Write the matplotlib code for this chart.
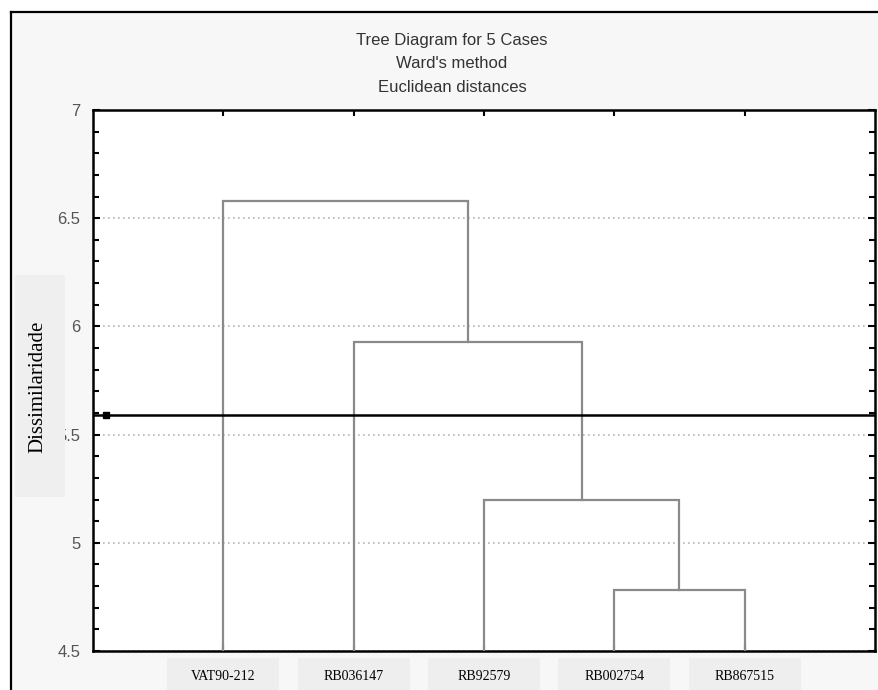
import matplotlib.pyplot as plt
import matplotlib.transforms as mtransforms
from matplotlib.patches import Rectangle
from matplotlib.ticker import MultipleLocator

# data
cases = ['VAT90-212', 'RB036147', 'RB92579', 'RB002754', 'RB867515']
# joins: (left node, right node) in scipy style, new nodes get index 5, 6, ...
joins = [(3, 4), (2, 5), (1, 6), (0, 7)]
join_heights = [4.78, 5.20, 5.93, 6.58]
cut_height = 5.59
title_lines = ['Tree Diagram for 5 Cases', "Ward's method", 'Euclidean distances']
y_label = 'Dissimilaridade'

W, H = 879, 690
fig = plt.figure(figsize=(W / 100, H / 100), dpi=100, facecolor='white')

# light grey panel with black border on left/top
fig.patches.append(Rectangle((11 / W, 0), 1, 1 - 12 / H, transform=fig.transFigure,
                             facecolor='#f7f7f7', edgecolor='none', zorder=-2))
fig.add_artist(plt.Line2D([11 / W, 11 / W], [0, 1 - 12 / H], color='black', lw=1.6,
                          transform=fig.transFigure, zorder=-1))
fig.add_artist(plt.Line2D([11 / W, 1], [1 - 12 / H, 1 - 12 / H], color='black', lw=1.6,
                          transform=fig.transFigure, zorder=-1))

ax = fig.add_axes([93 / W, 39 / H, 782 / W, 541 / H])
ax.set_facecolor('white')
ax.set_xlim(0, len(cases) + 1)
ax.set_ylim(4.5, 7)

# dendrogram
node_x = [i + 1 for i in range(len(cases))]
node_h = [4.5] * len(cases)
for (a, b), h in zip(joins, join_heights):
    xa, xb = node_x[a], node_x[b]
    ax.plot([xa, xa, xb, xb], [node_h[a], h, h, node_h[b]], color='#8a8a8a', lw=1.6,
            solid_joinstyle='miter', zorder=3)
    node_x.append((xa + xb) / 2)
    node_h.append(h)

# cut line
ax.axhline(cut_height, color='black', lw=1.8, zorder=4)
ax.plot([0.1], [cut_height], marker='s', ms=5, color='black', zorder=5)

ax.yaxis.grid(True, which='major', linestyle=(0, (1, 2)), color='#b5b5b5', lw=1.2)
ax.set_axisbelow(True)

ax.yaxis.set_major_locator(MultipleLocator(0.5))
ax.yaxis.set_minor_locator(MultipleLocator(0.1))
ax.yaxis.set_major_formatter(plt.FuncFormatter(lambda v, p: '%g' % v))
ax.set_xticks(range(1, len(cases) + 1))
ax.set_xticklabels([])
ax.tick_params(axis='both', which='both', direction='in', top=True, right=True,
               color='black', width=1.5)
ax.tick_params(axis='y', which='major', length=5, pad=9, labelsize=12, labelcolor='#555555')
ax.tick_params(axis='y', which='minor', length=4)
ax.tick_params(axis='x', length=4)
for lbl in ax.get_yticklabels():
    lbl.set_fontfamily('Liberation Sans')
for s in ax.spines.values():
    s.set_linewidth(1.8)
    s.set_color('black')

# case labels in grey boxes below the axes
blend = mtransforms.blended_transform_factory(ax.transData, fig.transFigure)
for i, name in enumerate(cases):
    x = i + 1
    ax.add_patch(Rectangle((x - 0.43, 0), 0.86, 32 / H, transform=blend,
                           facecolor='#eeeeee', edgecolor='none', clip_on=False, zorder=1))
    ax.text(x, 1 - 676 / H, name, transform=blend, ha='center', va='center',
            fontsize=10, family='Liberation Serif', color='black', zorder=2, clip_on=False)

# y label box (covers part of the 5.5 label like the original)
fig.patches.append(Rectangle((15 / W, 1 - 497 / H), 50 / W, 222 / H, transform=fig.transFigure,
                             facecolor='#efefef', edgecolor='none', zorder=1))
fig.text(38 / W, 1 - 387 / H, y_label, rotation=90, ha='center', va='center',
         fontsize=15, family='Liberation Serif', color='black', zorder=2)

for k, line in enumerate(title_lines):
    fig.text(452 / W, 1 - (40 + 23.5 * k) / H, line, ha='center', va='center',
             fontsize=12, family='Liberation Sans', color='#333333')

fig.savefig('out.png', dpi=100, facecolor='white')
